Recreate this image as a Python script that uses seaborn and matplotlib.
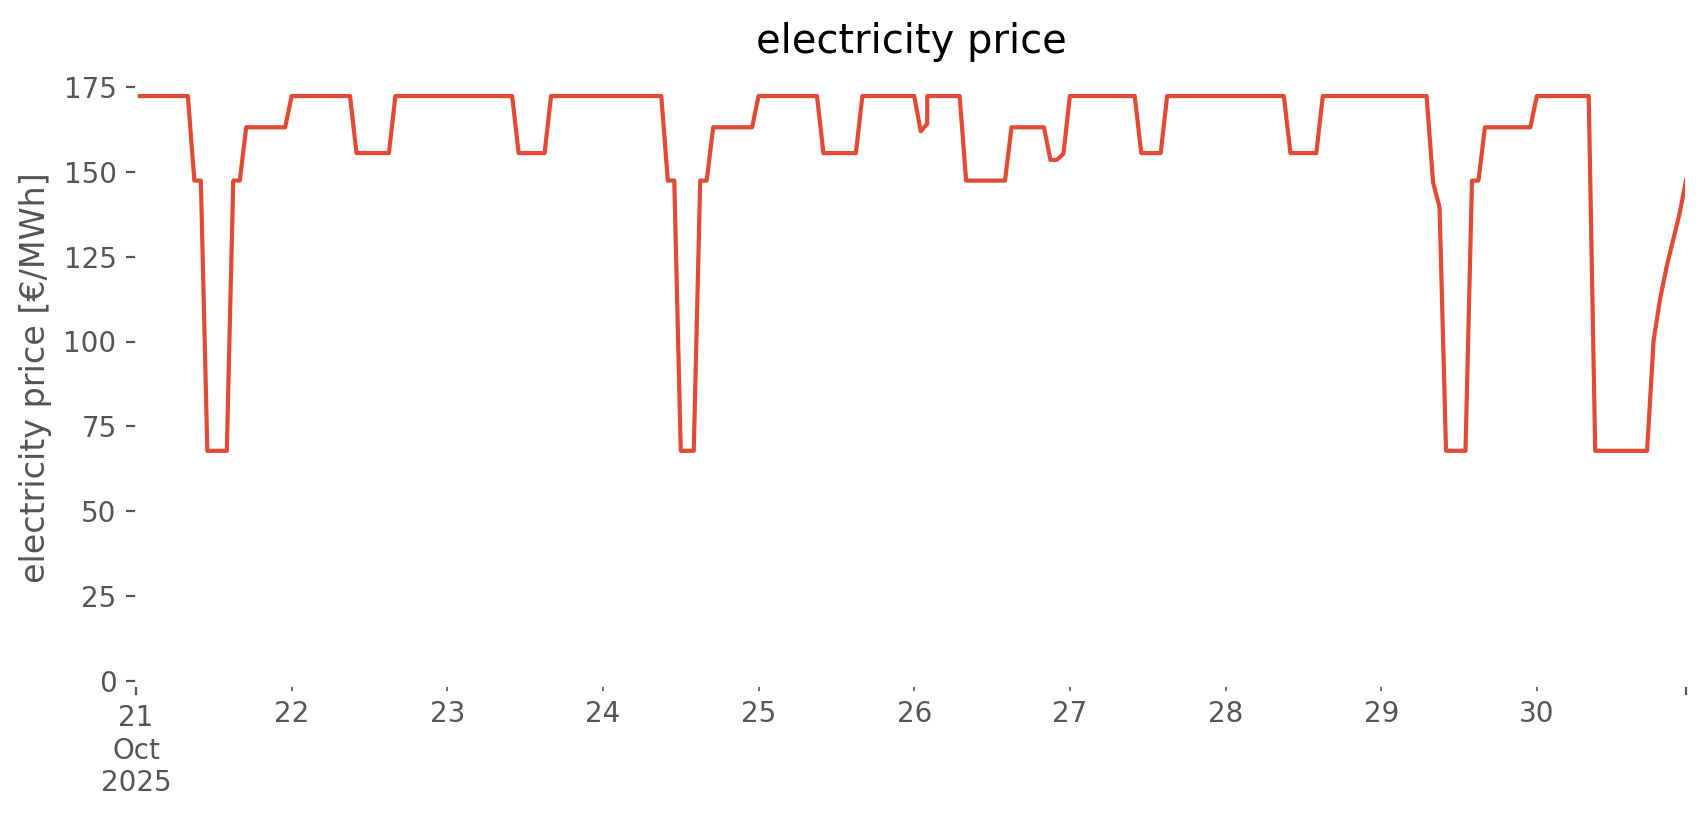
import matplotlib
matplotlib.use("Agg")
import matplotlib.pyplot as plt
import matplotlib.dates as mdates
import pandas as pd
import seaborn as sns

# ---- data (hourly, local time; Oct 26 02:00 appears twice because of the DST change)
day21 = [172.3, 172.3, 172.3, 172.3, 172.3, 172.3, 172.3, 172.3, 172.3, 147.4, 147.4, 67.8,
         67.8, 67.8, 67.8, 147.4, 147.4, 163.1, 163.1, 163.1, 163.1, 163.1, 163.1, 163.1]
day22 = [172.3, 172.3, 172.3, 172.3, 172.3, 172.3, 172.3, 172.3, 172.3, 172.3, 155.5, 155.5,
         155.5, 155.5, 155.5, 155.5, 172.3, 172.3, 172.3, 172.3, 172.3, 172.3, 172.3, 172.3]
day23 = [172.3, 172.3, 172.3, 172.3, 172.3, 172.3, 172.3, 172.3, 172.3, 172.3, 172.3, 155.5,
         155.5, 155.5, 155.5, 155.5, 172.3, 172.3, 172.3, 172.3, 172.3, 172.3, 172.3, 172.3]
day24 = [172.3, 172.3, 172.3, 172.3, 172.3, 172.3, 172.3, 172.3, 172.3, 172.3, 147.4, 147.4,
         67.8, 67.8, 67.8, 147.4, 147.4, 163.1, 163.1, 163.1, 163.1, 163.1, 163.1, 163.1]
day25 = [172.3, 172.3, 172.3, 172.3, 172.3, 172.3, 172.3, 172.3, 172.3, 172.3, 155.5, 155.5,
         155.5, 155.5, 155.5, 155.5, 172.3, 172.3, 172.3, 172.3, 172.3, 172.3, 172.3, 172.3]
day26 = [172.3, 161.9, 164.1, 172.3, 172.3, 172.3, 172.3, 172.3, 172.3, 147.4, 147.4, 147.4,
         147.4, 147.4, 147.4, 147.4, 163.1, 163.1, 163.1, 163.1, 163.1, 163.1, 153.5, 153.5,
         155.3]
day27 = [172.3, 172.3, 172.3, 172.3, 172.3, 172.3, 172.3, 172.3, 172.3, 172.3, 172.3, 155.5,
         155.5, 155.5, 155.5, 172.3, 172.3, 172.3, 172.3, 172.3, 172.3, 172.3, 172.3, 172.3]
day28 = [172.3, 172.3, 172.3, 172.3, 172.3, 172.3, 172.3, 172.3, 172.3, 172.3, 155.5, 155.5,
         155.5, 155.5, 155.5, 172.3, 172.3, 172.3, 172.3, 172.3, 172.3, 172.3, 172.3, 172.3]
day29 = [172.3, 172.3, 172.3, 172.3, 172.3, 172.3, 172.3, 172.3, 146.9, 139.5, 67.8, 67.8,
         67.8, 67.8, 147.4, 147.4, 163.1, 163.1, 163.1, 163.1, 163.1, 163.1, 163.1, 163.1]
day30 = [172.3, 172.3, 172.3, 172.3, 172.3, 172.3, 172.3, 172.3, 172.3, 67.8, 67.8, 67.8,
         67.8, 67.8, 67.8, 67.8, 67.8, 67.8, 100.2, 112.5, 121.9, 129.7, 137.6, 147.4]

dates = ["2025-10-21", "2025-10-22", "2025-10-23", "2025-10-24", "2025-10-25",
         "2025-10-26", "2025-10-27", "2025-10-28", "2025-10-29", "2025-10-30"]
day_values = [day21, day22, day23, day24, day25, day26, day27, day28, day29, day30]
day_labels = ["21\nOct\n2025", "22", "23", "24", "25", "26", "27", "28", "29", "30"]

# timestamps (local clock hours, repeated 02:00 on 26 Oct)
times = []
prices = []
for d, vals in zip(dates, day_values):
    hours = list(range(24))
    if d == "2025-10-26":
        hours = [0, 1, 2, 2] + list(range(3, 24))
    for h, v in zip(hours, vals):
        times.append(pd.Timestamp(d) + pd.Timedelta(hours=h))
        prices.append(v)

df = pd.DataFrame({"time": times, "price": prices})

# ---- style
plt.style.use("ggplot")
plt.rcParams["axes.facecolor"] = "white"
plt.rcParams["figure.facecolor"] = "white"
plt.rcParams["axes.grid"] = False
plt.rcParams["font.family"] = ["DejaVu Sans"]

W, H, DPI = 1706, 815, 200
fig = plt.figure(figsize=(W / DPI, H / DPI), dpi=DPI)
left_px, right_px, top_px, bottom_px = 136, 1686, 70, 685
zero_px = 681
ax = fig.add_axes([left_px / W, 1 - bottom_px / H,
                   (right_px - left_px) / W, (bottom_px - top_px) / H])

sns.lineplot(data=df, x="time", y="price", estimator=None, sort=False,
             color="#E24A33", linewidth=1.5, ax=ax)

ax.grid(False)
ax.set_facecolor("white")
for s in ax.spines.values():
    s.set_color("white")

x0 = mdates.date2num(df["time"].iloc[0])
x1 = mdates.date2num(df["time"].iloc[-1])
ax.set_xlim(x0, x1)
px_per_unit = 3.395
ax.set_ylim(-(bottom_px - zero_px) / px_per_unit, (zero_px - top_px) / px_per_unit)
ax.set_yticks([0, 25, 50, 75, 100, 125, 150, 175])

day_pos = [mdates.date2num(pd.Timestamp(d)) for d in dates]
ax.set_xticks([day_pos[0], x1], labels=[day_labels[0], ""])
ax.set_xticks(day_pos[1:], labels=day_labels[1:], minor=True)
ax.tick_params(axis="x", which="both", colors="#555555", labelsize=10)

ax.set_xlabel("")
ax.set_ylabel("electricity price [€/MWh]", fontsize=12, color="#555555")
ax.set_title("electricity price", fontsize=14.4, color="black")

fig.savefig("out.png", dpi=DPI)
